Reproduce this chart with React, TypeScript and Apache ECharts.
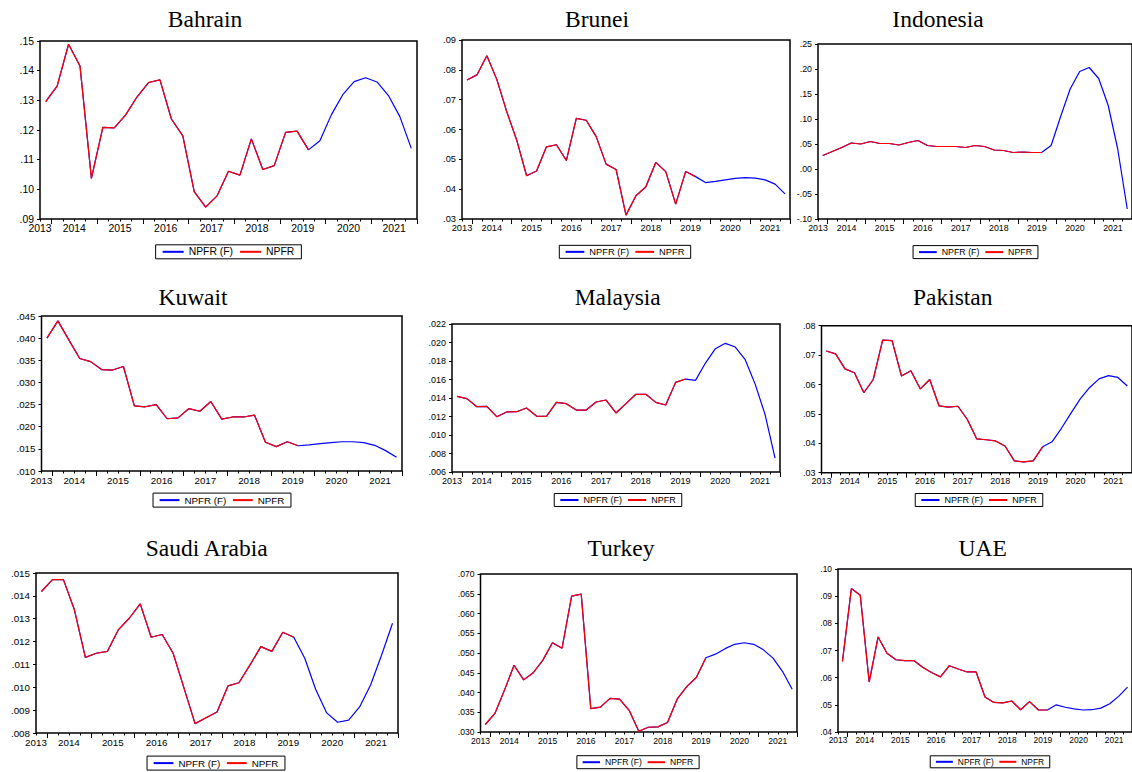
import { useEffect, useRef } from 'react';
import * as echarts from 'echarts';

// Quarterly sample 2013Q2..2021Q2 (33 observations); actual NPFR runs to 2019Q1,
// the forecast NPFR (F) continues to the end of the sample.
const QUARTERS = 33;
const yearLabels = ['2013', '2014', '2015', '2016', '2017', '2018', '2019', '2020', '2021'];
// quarter-boundary slot of each year label (2013 sits on the left frame)
const yearLabelSlots = [0, 3, 7, 11, 15, 19, 23, 27, 31];

const countries = ['Bahrain', 'Brunei', 'Indonesia', 'Kuwait', 'Malaysia', 'Pakistan', 'Saudi Arabia', 'Turkey', 'UAE'];

const bahrainNpfr = [0.1296, 0.1348, 0.1489, 0.1416, 0.1037, 0.1209, 0.1207, 0.1251, 0.1312, 0.1360, 0.1369, 0.1237, 0.1180, 0.0992, 0.0940, 0.0978, 0.1061, 0.1048, 0.1170, 0.1067, 0.1080, 0.1192, 0.1196, 0.1133];
const bahrainFcst = [0.1164, 0.1251, 0.1319, 0.1363, 0.1376, 0.1362, 0.1316, 0.1245, 0.1138];

const bruneiNpfr = [0.0766, 0.0783, 0.0847, 0.0768, 0.0660, 0.0565, 0.0445, 0.0461, 0.0542, 0.0549, 0.0496, 0.0637, 0.0631, 0.0576, 0.0484, 0.0466, 0.0313, 0.0378, 0.0408, 0.0490, 0.0459, 0.0350, 0.0459, 0.0442];
const bruneiFcst = [0.0422, 0.0426, 0.0431, 0.0436, 0.0439, 0.0437, 0.0431, 0.0417, 0.0384];

const indonesiaNpfr = [0.027, 0.035, 0.043, 0.052, 0.050, 0.055, 0.051, 0.051, 0.048, 0.053, 0.057, 0.047, 0.045, 0.045, 0.045, 0.043, 0.047, 0.045, 0.038, 0.037, 0.033, 0.034, 0.033, 0.033];
const indonesiaFcst = [0.047, 0.105, 0.160, 0.195, 0.203, 0.181, 0.127, 0.040, -0.080];

const kuwaitNpfr = [0.0400, 0.0439, 0.0396, 0.0354, 0.0347, 0.0329, 0.0328, 0.0336, 0.0247, 0.0245, 0.0250, 0.0218, 0.0220, 0.0241, 0.0235, 0.0257, 0.0217, 0.0222, 0.0222, 0.0226, 0.0165, 0.0155, 0.0166, 0.0157];
const kuwaitFcst = [0.0159, 0.0162, 0.0164, 0.0166, 0.0166, 0.0164, 0.0158, 0.0146, 0.0131];

const malaysiaNpfr = [0.01418, 0.01393, 0.01306, 0.01310, 0.01198, 0.01249, 0.01252, 0.01292, 0.01205, 0.01202, 0.01353, 0.01339, 0.01270, 0.01270, 0.01357, 0.01378, 0.01238, 0.01339, 0.01440, 0.01440, 0.01353, 0.01324, 0.01569, 0.01605];
const malaysiaFcst = [0.01591, 0.01778, 0.01933, 0.01991, 0.01951, 0.01814, 0.0155, 0.0122, 0.0075];

const pakistanNpfr = [0.0714, 0.0704, 0.0653, 0.0640, 0.0572, 0.0617, 0.0751, 0.0749, 0.0629, 0.0647, 0.0585, 0.0617, 0.0527, 0.0523, 0.0526, 0.0481, 0.0415, 0.0412, 0.0408, 0.0391, 0.0340, 0.0337, 0.0340, 0.0388];
const pakistanFcst = [0.0405, 0.0451, 0.0502, 0.0551, 0.0590, 0.0619, 0.0630, 0.0624, 0.0595];

const saudiNpfr = [0.01419, 0.01471, 0.01471, 0.01339, 0.01131, 0.01149, 0.01157, 0.01251, 0.01302, 0.01365, 0.01219, 0.01231, 0.01149, 0.00995, 0.00841, 0.00867, 0.00892, 0.01006, 0.01020, 0.01097, 0.01178, 0.01157, 0.01241, 0.01219];
const saudiFcst = [0.01127, 0.00990, 0.00888, 0.00847, 0.00856, 0.00914, 0.01010, 0.01140, 0.01280];

const turkeyNpfr = [0.0319, 0.0347, 0.0406, 0.0469, 0.0432, 0.0450, 0.0482, 0.0526, 0.0512, 0.0644, 0.0649, 0.0359, 0.0363, 0.0385, 0.0383, 0.0355, 0.0302, 0.0312, 0.0313, 0.0324, 0.0383, 0.0415, 0.0438, 0.0488];
const turkeyFcst = [0.0497, 0.0511, 0.0522, 0.0526, 0.0522, 0.0508, 0.0487, 0.0453, 0.0408];

const uaeNpfr = [0.0660, 0.0928, 0.0903, 0.0584, 0.0750, 0.0690, 0.0666, 0.0663, 0.0663, 0.0638, 0.0619, 0.0603, 0.0644, 0.0632, 0.0621, 0.0621, 0.0529, 0.0509, 0.0507, 0.0514, 0.0482, 0.0512, 0.0481, 0.0481];
const uaeFcst = [0.0500, 0.0491, 0.0485, 0.0481, 0.0482, 0.0488, 0.0504, 0.0531, 0.0565];

const actualSeries = [bahrainNpfr, bruneiNpfr, indonesiaNpfr, kuwaitNpfr, malaysiaNpfr, pakistanNpfr, saudiNpfr, turkeyNpfr, uaeNpfr];
const forecastTails = [bahrainFcst, bruneiFcst, indonesiaFcst, kuwaitFcst, malaysiaFcst, pakistanFcst, saudiFcst, turkeyFcst, uaeFcst];

// value-axis ranges and tick steps
const yMin = [0.09, 0.03, -0.10, 0.010, 0.006, 0.03, 0.008, 0.030, 0.04];
const yMax = [0.15, 0.09, 0.25, 0.045, 0.022, 0.08, 0.015, 0.070, 0.10];
const yStep = [0.01, 0.01, 0.05, 0.005, 0.002, 0.01, 0.001, 0.005, 0.01];
const yDecimals = [2, 2, 2, 3, 3, 2, 3, 3, 2];

// panel geometry in page pixels
const PANELS = [
  { left: 40, top: 41, width: 377, height: 178, titleX: 205, titleY: 19, font: 10.4, legendX: 228.5, legendY: 252 },
  { left: 462, top: 40, width: 328, height: 179, titleX: 597, titleY: 19, font: 9.3, legendX: 625, legendY: 252 },
  { left: 818, top: 44, width: 317, height: 175, titleX: 938, titleY: 19, font: 8.8, legendX: 975.5, legendY: 252 },
  { left: 41.5, top: 316, width: 360.5, height: 155, titleX: 193, titleY: 297, font: 9.8, legendX: 222, legendY: 500 },
  { left: 452, top: 324, width: 328, height: 148, titleX: 617.7, titleY: 297, font: 9, legendX: 618, legendY: 500 },
  { left: 821.5, top: 325.7, width: 313.5, height: 147, titleX: 952.7, titleY: 297, font: 9, legendX: 979, legendY: 500 },
  { left: 36, top: 573, width: 362, height: 160, titleX: 206.7, titleY: 548, font: 9.8, legendX: 216, legendY: 763 },
  { left: 480.5, top: 574, width: 316.5, height: 158, titleX: 621, titleY: 548, font: 8.6, legendX: 638, legendY: 762 },
  { left: 838, top: 569, width: 298, height: 163, titleX: 982.7, titleY: 548, font: 8.4, legendX: 990, legendY: 762 },
];

const BLUE = '#0000ff';
const RED = '#ff0000';
const SANS = '"Liberation Sans", Arial, sans-serif';
const SERIF = '"Liberation Serif", "Times New Roman", serif';
const FCST_NAME = 'NPFR (F)';
const ACT_NAME = 'NPFR';

function measure(text: string, font: string): number {
  const ctx = document.createElement('canvas').getContext('2d');
  if (!ctx) return text.length * 6;
  ctx.font = font;
  return ctx.measureText(text).width;
}

function fmtTick(v: number, d: number): string {
  return v.toFixed(d).replace(/^(-?)0\./, '$1.');
}

function buildOption() {
  const slotNames = Array.from({ length: QUARTERS + 1 }, (_, i) => 'q' + i);
  const slotLabel: Record<number, string> = {};
  yearLabelSlots.forEach((s, k) => { slotLabel[s] = yearLabels[k]; });

  const grid: any[] = [];
  const xAxis: any[] = [];
  const yAxis: any[] = [];
  const series: any[] = [];
  const title: any[] = [];
  const legend: any[] = [];

  PANELS.forEach((p, k) => {
    const s = p.font / 10.4;
    grid.push({
      left: p.left, top: p.top, width: p.width, height: p.height,
      show: true, borderColor: '#000', borderWidth: 1.5, backgroundColor: 'transparent',
    });
    // data axis
    xAxis.push({ type: 'value', gridIndex: k, min: 0, max: QUARTERS, show: false, position: 'bottom' });
    // quarter ticks + year labels
    xAxis.push({
      type: 'category', gridIndex: k, position: 'bottom', boundaryGap: false, data: slotNames,
      axisLine: { show: false },
      axisTick: { show: true, interval: 0, length: 2.5, lineStyle: { color: '#000', width: 1 } },
      axisLabel: {
        interval: (i: number) => slotLabel[i] !== undefined,
        formatter: (_v: string, i: number) => slotLabel[i] || '',
        margin: 4, color: '#000', fontFamily: SANS, fontSize: p.font,
      },
      splitLine: { show: false },
    });
    // longer ticks every fourth quarter
    xAxis.push({
      type: 'category', gridIndex: k, position: 'bottom', boundaryGap: false, data: slotNames,
      axisLine: { show: false },
      axisTick: { show: true, interval: (i: number) => i % 4 === 1, length: 5, lineStyle: { color: '#000', width: 1 } },
      axisLabel: { show: false },
      splitLine: { show: false },
    });
    yAxis.push({
      type: 'value', gridIndex: k, position: 'left',
      min: yMin[k], max: yMax[k], interval: yStep[k],
      axisLine: { show: false },
      axisTick: { show: true, length: 3, lineStyle: { color: '#000', width: 1 } },
      axisLabel: {
        formatter: (v: number) => fmtTick(v, yDecimals[k]),
        margin: 6, color: '#000', fontFamily: SANS, fontSize: p.font,
      },
      splitLine: { show: false },
    });

    const actual = actualSeries[k];
    const full = actual.concat(forecastTails[k]);
    series.push({
      name: FCST_NAME, type: 'line', xAxisIndex: 3 * k, yAxisIndex: k,
      data: full.map((v, i) => [i + 0.5, v]),
      showSymbol: false, symbol: 'none', color: BLUE,
      lineStyle: { color: BLUE, width: 1.2 }, z: 2,
    });
    series.push({
      name: ACT_NAME, type: 'line', xAxisIndex: 3 * k, yAxisIndex: k,
      data: actual.map((v, i) => [i + 0.5, v]),
      showSymbol: false, symbol: 'none', color: RED,
      lineStyle: { color: RED, width: 1.2 }, z: 3,
    });

    title.push({
      text: countries[k], left: p.titleX, top: p.titleY, padding: 0,
      textAlign: 'center', textVerticalAlign: 'middle',
      textStyle: { fontFamily: SERIF, fontSize: 23.5, fontWeight: 'normal', color: '#000' },
    });

    const lf = `${p.font}px ${SANS}`;
    const itemW = 21 * s;
    const padH = 7 * s;
    const gap = 7 * s;
    const w = 2 * padH + 2 * (itemW + 5) + gap + measure(FCST_NAME, lf) + measure(ACT_NAME, lf);
    const h = p.font + 4;
    legend.push({
      left: p.legendX - w / 2, top: p.legendY - h / 2,
      orient: 'horizontal', selectedMode: false,
      padding: [2, padH], itemGap: gap, itemWidth: itemW, itemHeight: 2,
      borderColor: '#000', borderWidth: 1, backgroundColor: '#fff',
      icon: 'rect',
      textStyle: { fontFamily: SANS, fontSize: p.font, color: '#000' },
      data: [{ name: FCST_NAME }, { name: ACT_NAME }],
    });
  });

  return { animation: false, backgroundColor: '#fff', title, grid, xAxis, yAxis, series, legend };
}

export default function App() {
  const ref = useRef<HTMLDivElement>(null);
  useEffect(() => {
    if (!ref.current) return;
    const chart = echarts.init(ref.current, undefined, { renderer: 'svg' });
    chart.setOption(buildOption() as any);
    return () => chart.dispose();
  }, []);
  return (
    <div
      ref={ref}
      style={{ position: 'absolute', left: 0, top: 0, width: 1132, height: 772, background: '#fff' }}
    />
  );
}
